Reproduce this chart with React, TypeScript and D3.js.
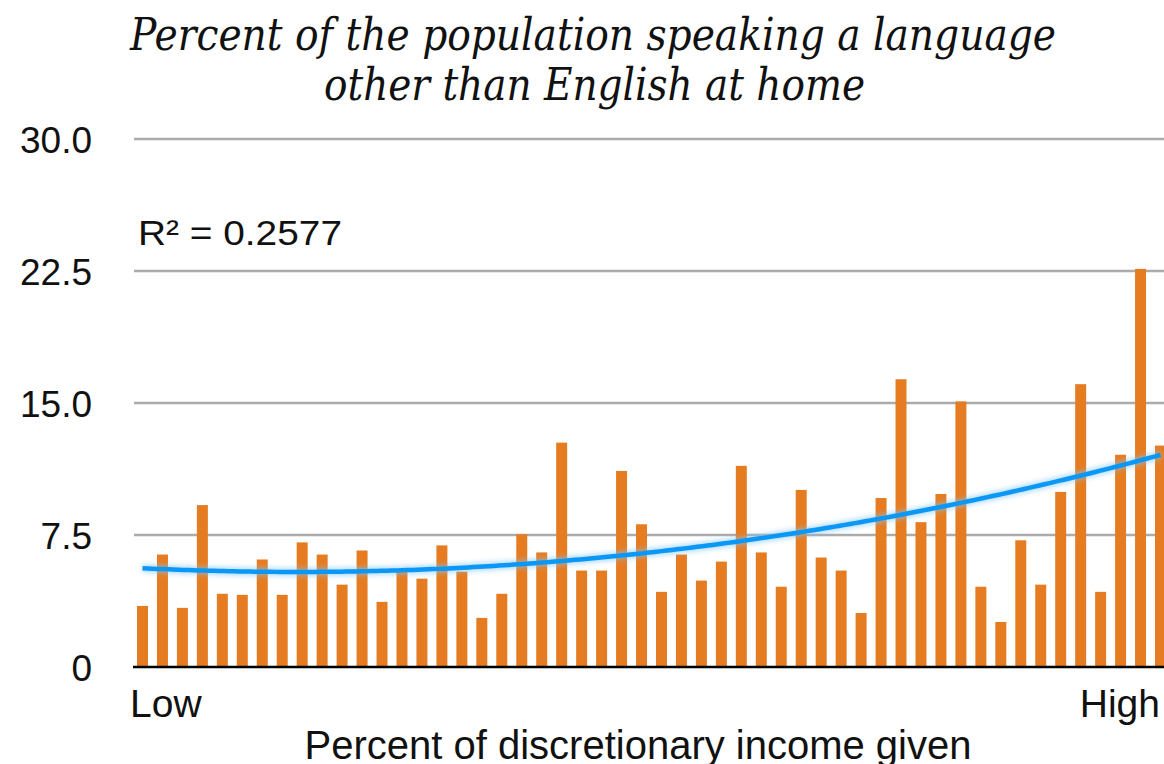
import React from "react";
import * as d3 from "d3";

const values: number[] = [
  3.47, 6.39, 3.36, 9.2, 4.16, 4.1, 6.11, 4.1, 7.08, 6.39,
  4.68, 6.62, 3.7, 5.42, 5.02, 6.91, 5.42, 2.79, 4.16, 7.54,
  6.51, 12.75, 5.48, 5.48, 11.14, 8.11, 4.27, 6.39, 4.91, 5.99,
  11.43, 6.51, 4.56, 10.06, 6.22, 5.48, 3.07, 9.6, 16.35, 8.23,
  9.83, 15.09, 4.56, 2.56, 7.2, 4.68, 9.95, 16.07, 4.27, 12.06,
  22.62, 12.58,
];
const categories: string[] = values.map((_, i) => `G${i + 1}`);
const yTicks: number[] = [0, 7.5, 15, 22.5, 30];
const yTickLabels: string[] = ["0", "7.5", "15.0", "22.5", "30.0"];
const titleLines: string[] = [
  "Percent of the population speaking a language",
  "other than English at home",
];
const xEndLabels: string[] = ["Low", "High"];
const xTitle = "Percent of discretionary income given";
const rSquaredLabel = "R² = 0.2577";

// quadratic least squares fit y = a + b x + c x^2 over index x
function quadFit(ys: number[]) {
  let s0 = 0, s1 = 0, s2 = 0, s3 = 0, s4 = 0, t0 = 0, t1 = 0, t2 = 0;
  ys.forEach((y, x) => {
    s0 += 1; s1 += x; s2 += x * x; s3 += x * x * x; s4 += x * x * x * x;
    t0 += y; t1 += x * y; t2 += x * x * y;
  });
  const M = [
    [s0, s1, s2, t0],
    [s1, s2, s3, t1],
    [s2, s3, s4, t2],
  ];
  for (let i = 0; i < 3; i++) {
    for (let k = i + 1; k < 3; k++) {
      const f = M[k][i] / M[i][i];
      for (let j = i; j < 4; j++) M[k][j] -= f * M[i][j];
    }
  }
  const c = M[2][3] / M[2][2];
  const b = (M[1][3] - M[1][2] * c) / M[1][1];
  const a = (M[0][3] - M[0][1] * b - M[0][2] * c) / M[0][0];
  return (x: number) => a + b * x + c * x * x;
}

export default function App() {
  const W = 1164, H = 764;
  const x = d3.scaleBand<string>().domain(categories).range([133, 1170]).paddingInner(0.449).paddingOuter(0.2);
  const y = d3.scaleLinear().domain([0, 30]).range([667, 139]);
  const fit = quadFit(values);
  const n = values.length;
  const pts: [number, number][] = d3.range(0, n - 1 + 0.001, (n - 1) / 200).map((i) => {
    const i0 = Math.floor(Math.min(i, n - 2));
    const frac = i - i0;
    const cx0 = (x(categories[i0]) as number) + x.bandwidth() / 2;
    const cx1 = (x(categories[i0 + 1]) as number) + x.bandwidth() / 2;
    return [cx0 + (cx1 - cx0) * frac, y(fit(i))];
  });
  const line = d3.line<[number, number]>().x((d) => d[0]).y((d) => d[1]);
  const pathD = line(pts) || "";
  const sans = "'Liberation Sans', Arial, Helvetica, sans-serif";
  const serif = "'DejaVu Serif', 'Liberation Serif', serif";

  return (
    <svg width={W} height={H} style={{ position: "absolute", left: 0, top: 0, background: "#fff" }}>
      <defs>
        <filter id="glow" x="-5%" y="-50%" width="110%" height="200%">
          <feGaussianBlur stdDeviation="2.5" />
        </filter>
        <clipPath id="clip">
          <rect x={0} y={0} width={W} height={H} />
        </clipPath>
      </defs>
      <rect x={0} y={0} width={W} height={H} fill="#fff" />
      <g fontFamily={serif} fontStyle="italic" fill="#111" textAnchor="middle">
        <text x={593} y={50} fontSize={44} textLength={926} lengthAdjust="spacingAndGlyphs">{titleLines[0]}</text>
        <text x={594.5} y={100} fontSize={44} textLength={541} lengthAdjust="spacingAndGlyphs">{titleLines[1]}</text>
      </g>
      {yTicks.filter((t) => t > 0).map((t) => (
        <line key={`g${t}`} x1={134} x2={W} y1={y(t)} y2={y(t)} stroke="#ababab" strokeWidth={2.3} />
      ))}
      <g fontFamily={sans} fontSize={37} fill="#111" textAnchor="end">
        {yTicks.map((t, i) => (
          <text key={`t${t}`} x={92} y={y(t) + 14}>{yTickLabels[i]}</text>
        ))}
      </g>
      <g clipPath="url(#clip)">
        {values.map((v, i) => (
          <rect key={i} x={x(categories[i])} y={y(v)} width={x.bandwidth()} height={y(0) - y(v)} fill="#e67c22" />
        ))}
      </g>
      <line x1={133} x2={W} y1={y(0)} y2={y(0)} stroke="#000" strokeWidth={2.5} />
      <path d={pathD} fill="none" stroke="#7cc4f7" strokeWidth={8} opacity={0.6} filter="url(#glow)" />
      <path d={pathD} fill="none" stroke="#0a97f5" strokeWidth={4.5} />
      <text x={138} y={245} fontFamily={sans} fontSize={35} fill="#111" textLength={204} lengthAdjust="spacingAndGlyphs">{rSquaredLabel}</text>
      <g fontFamily={sans} fill="#111">
        <text x={130} y={717} fontSize={39}>{xEndLabels[0]}</text>
        <text x={1160} y={717} fontSize={39} textAnchor="end">{xEndLabels[1]}</text>
        <text x={638} y={759} fontSize={40} textAnchor="middle">{xTitle}</text>
      </g>
    </svg>
  );
}
